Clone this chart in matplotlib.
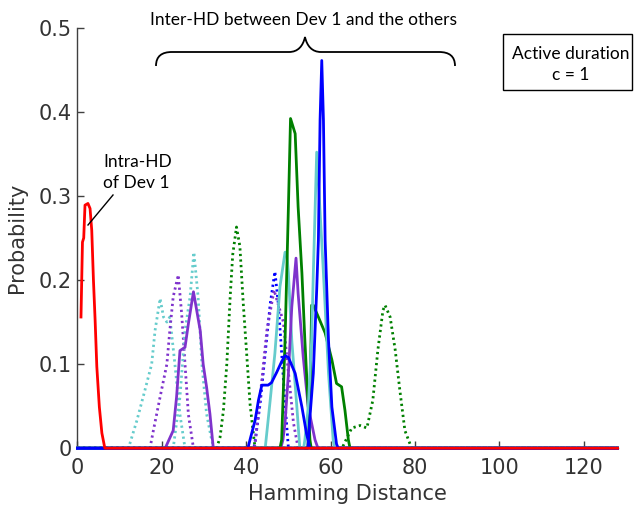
import matplotlib.pyplot as plt
from matplotlib.path import Path
from matplotlib.patches import PathPatch, Rectangle
from matplotlib.lines import Line2D

# colours used for the devices
BLUE = "#0000ff"
GREEN = "#008000"
RED = "#ff0000"
CYAN = "#66cccc"
PURPLE = "#7f33cc"

# Intra-HD of Dev 1
intra_x = [0.85, 1.2, 1.5, 1.8, 2.5, 3.0, 3.4, 3.8, 4.2, 4.6, 5.2, 5.8, 6.5, 128]
intra_y = [0.156, 0.245, 0.25, 0.289, 0.291, 0.285, 0.259, 0.2, 0.152, 0.097, 0.049, 0.018, 0.0, 0.0]

# Inter-HD curves, dotted ones
cyan_dot_a_x = [0, 12.1, 14.1, 16.0, 17.6, 18.4, 19.6, 20.4, 21.2, 21.9, 23.1, 24.3, 25.5, 128]
cyan_dot_a_y = [0, 0, 0.033, 0.069, 0.1, 0.14, 0.178, 0.156, 0.15, 0.156, 0.1, 0.04, 0, 0]

purple_dot_a_x = [0, 17.2, 18.0, 19.6, 21.2, 21.9, 22.7, 23.9, 24.7, 25.5, 26.3, 27.5, 128]
purple_dot_a_y = [0, 0, 0.021, 0.061, 0.1, 0.14, 0.18, 0.206, 0.16, 0.1, 0.04, 0, 0]

cyan_dot_b_x = [0, 22.7, 24.3, 25.5, 26.7, 27.6, 28.6, 29.5, 30.6, 31.8, 32.4, 128]
cyan_dot_b_y = [0, 0, 0.061, 0.14, 0.18, 0.233, 0.18, 0.1, 0.041, 0.01, 0, 0]

green_dot_a_x = [0, 33.0, 33.8, 34.6, 35.4, 36.2, 36.8, 37.7, 38.5, 39.3, 40.1, 40.9, 41.7, 42.1, 128]
green_dot_a_y = [0, 0, 0.013, 0.045, 0.1, 0.18, 0.23, 0.263, 0.24, 0.172, 0.113, 0.053, 0.017, 0, 0]

blue_dot_x = [0, 41.8, 42.1, 43.3, 44.5, 45.7, 46.8, 47.6, 48.4, 49.2, 50.0, 128]
blue_dot_y = [0, 0, 0.008, 0.053, 0.113, 0.172, 0.21, 0.172, 0.113, 0.053, 0, 0]

purple_dot_b_x = [0, 41.9, 42.1, 43.3, 44.9, 46.6, 48.8, 50.0, 51.2, 52.3, 128]
purple_dot_b_y = [0, 0, 0.005, 0.061, 0.14, 0.188, 0.15, 0.09, 0.03, 0, 0]

green_dot_b_x = [0, 62.7, 65.0, 67.0, 68.6, 70.0, 71.2, 72.4, 72.9, 74.1, 75.3, 76.4, 77.6, 79.2, 128]
green_dot_b_y = [0, 0, 0.024, 0.027, 0.024, 0.057, 0.117, 0.164, 0.17, 0.156, 0.117, 0.069, 0.021, 0, 0]

# Inter-HD curves, solid ones
purple_a_x = [0, 20.8, 22.7, 23.5, 24.3, 25.5, 26.3, 27.5, 29.1, 29.8, 30.6, 31.4, 32.2, 128]
purple_a_y = [0, 0, 0.021, 0.061, 0.116, 0.12, 0.148, 0.186, 0.14, 0.1, 0.073, 0.041, 0, 0]

cyan_a_x = [0, 44.5, 45.6, 46.8, 48.0, 49.2, 49.6, 50.0, 50.8, 52.0, 52.7, 128]
cyan_a_y = [0, 0, 0.053, 0.113, 0.192, 0.233, 0.233, 0.208, 0.128, 0.049, 0, 0]

purple_b_x = [0, 48.2, 48.7, 49.2, 50.0, 50.8, 51.8, 52.3, 53.5, 54.7, 56.3, 57.0, 128]
purple_b_y = [0, 0, 0.01, 0.03, 0.089, 0.168, 0.226, 0.184, 0.109, 0.049, 0.01, 0, 0]

blue_a_x = [0, 40.4, 40.9, 42.1, 42.9, 43.7, 45.2, 46.0, 47.2, 48.4, 49.2, 50.0, 51.6, 53.2, 54.3, 55.1, 128]
blue_a_y = [0, 0, 0.01, 0.033, 0.057, 0.075, 0.075, 0.078, 0.09, 0.103, 0.11, 0.108, 0.089, 0.049, 0.017, 0, 0]

green_a_x = [0, 48.0, 48.4, 49.2, 50.0, 50.5, 51.6, 52.3, 53.2, 53.9, 54.7, 55.1, 55.4, 128]
green_a_y = [0, 0, 0.01, 0.128, 0.287, 0.392, 0.374, 0.287, 0.208, 0.128, 0.049, 0.01, 0, 0]

green_b_x = [0, 54.6, 55.1, 55.5, 55.9, 57.1, 58.7, 60.3, 61.4, 62.6, 63.4, 64.2, 64.6, 128]
green_b_y = [0, 0, 0.05, 0.17, 0.17, 0.156, 0.137, 0.105, 0.077, 0.073, 0.045, 0.01, 0, 0]

cyan_b_x = [0, 53.6, 53.9, 54.7, 55.5, 55.9, 56.7, 57.3, 58.3, 59.5, 60.6, 61.0, 128]
cyan_b_y = [0, 0, 0.01, 0.049, 0.128, 0.208, 0.352, 0.3, 0.208, 0.089, 0.01, 0, 0]

blue_b_x = [0, 54.6, 55.1, 55.9, 56.7, 57.1, 57.5, 57.9, 58.3, 58.7, 59.5, 60.3, 61.4, 61.8, 128]
blue_b_y = [0, 0, 0.037, 0.089, 0.188, 0.247, 0.39, 0.461, 0.39, 0.247, 0.128, 0.049, 0.005, 0, 0]

x_ticks = [0, 20, 40, 60, 80, 100, 120]
y_ticks = [0, 0.1, 0.2, 0.3, 0.4, 0.5]
y_tick_labels = ["0", "0.1", "0.2", "0.3", "0.4", "0.5"]

W, H = 634, 513
NOTE_FONT = ["Lato", "DejaVu Sans"]


def fxy(px, py):
    """pixel position (from top left) -> figure fraction"""
    return px / W, 1 - py / H


def draw_curves(ax):
    dot = (0, (0.8, 1.2))
    curves = [
        (cyan_dot_a_x, cyan_dot_a_y, CYAN, dot),
        (purple_dot_a_x, purple_dot_a_y, PURPLE, dot),
        (cyan_dot_b_x, cyan_dot_b_y, CYAN, dot),
        (green_dot_a_x, green_dot_a_y, GREEN, dot),
        (blue_dot_x, blue_dot_y, BLUE, dot),
        (purple_dot_b_x, purple_dot_b_y, PURPLE, dot),
        (green_dot_b_x, green_dot_b_y, GREEN, dot),
        (purple_a_x, purple_a_y, PURPLE, "-"),
        (cyan_a_x, cyan_a_y, CYAN, "-"),
        (purple_b_x, purple_b_y, PURPLE, "-"),
        (green_a_x, green_a_y, GREEN, "-"),
        (green_b_x, green_b_y, GREEN, "-"),
        (cyan_b_x, cyan_b_y, CYAN, "-"),
        (blue_a_x, blue_a_y, BLUE, "-"),
        (blue_b_x, blue_b_y, BLUE, "-"),
        (intra_x, intra_y, RED, "-"),
    ]
    # lines sit above the spines, like the original, red one last
    for x, y, c, ls in curves:
        ax.plot(x, y, color=c, linestyle=ls, linewidth=2.0, clip_on=False, zorder=3)


def draw_notes(fig):
    # brace over the inter-HD group
    pts = [(156, 66), (156, 56), (162, 52), (172, 52),
           (289, 52),
           (298, 52), (303, 46), (305, 37),
           (307, 46), (312, 52), (321, 52),
           (439, 52),
           (449, 52), (455, 56), (455, 66)]
    codes = [Path.MOVETO, Path.CURVE4, Path.CURVE4, Path.CURVE4,
             Path.LINETO,
             Path.CURVE4, Path.CURVE4, Path.CURVE4,
             Path.CURVE4, Path.CURVE4, Path.CURVE4,
             Path.LINETO,
             Path.CURVE4, Path.CURVE4, Path.CURVE4]
    brace = Path([fxy(*p) for p in pts], codes)
    fig.patches.append(PathPatch(brace, transform=fig.transFigure, fill=False,
                                 edgecolor="black", linewidth=1.3))
    fig.text(*fxy(304, 20), "Inter-HD between Dev 1 and the others",
             ha="center", va="center", fontsize=12.5, family=NOTE_FONT)

    # box with the active duration
    x0, y0 = fxy(503, 90)
    x1, y1 = fxy(632, 34)
    fig.patches.append(Rectangle((x0, y0), x1 - x0, y1 - y0, transform=fig.transFigure,
                                 fill=False, edgecolor="black", linewidth=1.0))
    fig.text(*fxy(571, 54), "Active duration", ha="center", va="center",
             fontsize=12.5, family=NOTE_FONT)
    fig.text(*fxy(571, 75), "c = 1", ha="center", va="center",
             fontsize=12.5, family=NOTE_FONT)

    # label for the intra-HD curve
    fig.text(*fxy(103, 162), "Intra-HD", ha="left", va="center",
             fontsize=12.5, family=NOTE_FONT)
    fig.text(*fxy(103, 183), "of Dev 1", ha="left", va="center",
             fontsize=12.5, family=NOTE_FONT)
    lx0, ly0 = fxy(113, 195)
    lx1, ly1 = fxy(88, 225)
    fig.lines.append(Line2D([lx0, lx1], [ly0, ly1], transform=fig.transFigure,
                            color="black", linewidth=1.0))


if __name__ == "__main__":
    fig = plt.figure(figsize=(W / 100, H / 100), dpi=100)
    ax = fig.add_axes([77.4 / W, 1 - 448.2 / H, 540.2 / W, 420.5 / H])

    draw_curves(ax)

    ax.set_xlim(0, 128)
    ax.set_ylim(0, 0.5)
    ax.set_xticks(x_ticks)
    ax.set_yticks(y_ticks)
    ax.set_yticklabels(y_tick_labels)
    for side in ["top", "right"]:
        ax.spines[side].set_visible(False)
    for side in ["left", "bottom"]:
        ax.spines[side].set_color("#404040")
        ax.spines[side].set_linewidth(1.0)
    ax.tick_params(direction="in", length=5, width=1.0, color="#404040",
                   labelsize=15, labelcolor="#333333")
    ax.tick_params(axis="x", pad=7)
    ax.tick_params(axis="y", pad=4)

    ax.set_xlabel("Hamming Distance", fontsize=15, color="#333333", va="center")
    ax.xaxis.set_label_coords(0.5, (448.2 - 494) / 420.5)
    ax.set_ylabel("Probability", fontsize=15, color="#333333", va="center")
    ax.yaxis.set_label_coords((17.5 - 77.4) / 540.2, 0.5)

    draw_notes(fig)

    fig.savefig("out.png", dpi=100)
